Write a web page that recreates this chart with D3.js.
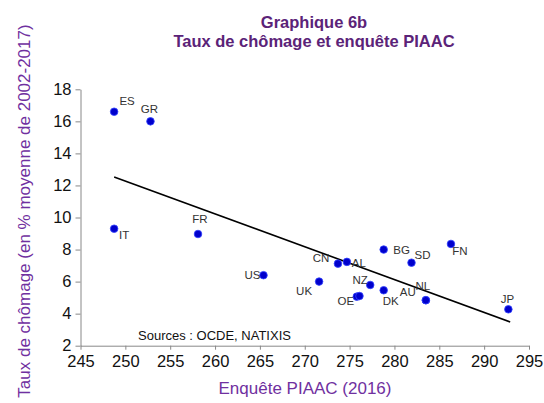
<!DOCTYPE html>
<html>
<head>
<meta charset="utf-8">
<script src="https://cdn.jsdelivr.net/npm/d3@7"></script>
<style>
  body { margin: 0; background: #fff; }
  svg { display: block; font-family: Arial, "Liberation Sans", sans-serif; }
</style>
</head>
<body>
<div id="chart"></div>
<script>
"use strict";

/*** Data */
const countries = ["ES", "GR", "IT", "FR", "US", "UK", "CN", "AL", "NZ", "OE", "", "DK", "AU", "BG", "SD", "FN", "NL", "JP"];
const piaac     = [248.75, 252.8, 248.75, 258.1, 265.4, 271.6, 273.7, 274.7, 277.3, 275.8, 276.1, 278.8, 283.5, 278.8, 281.9, 286.3, 283.5, 292.7];
const chomage   = [16.6, 16.0, 9.3, 8.97, 6.4, 6.0, 7.12, 7.23, 5.79, 5.06, 5.1, 5.46, 4.84, 8.0, 7.18, 8.35, 4.84, 4.27];

/* trend line end points */
const trendX = [248.75, 292.9];
const trendY = [12.53, 3.48];

const xTicks = [245, 250, 255, 260, 265, 270, 275, 280, 285, 290, 295];
const yTicks = [2, 4, 6, 8, 10, 12, 14, 16, 18];

/* label offsets (px) from the point */
const labelDx = {ES: 13, GR: -1, IT: 10, FR: 2, US: -11, UK: -15, CN: -17, AL: 12, NZ: -10, OE: -11, DK: 7, AU: -18, BG: 18, SD: 11, FN: 9, NL: -3, JP: -1};
const labelDy = {ES: -11, GR: -12, IT: 6, FR: -15, US: 0, UK: 9, CN: -6, AL: 1, NZ: -5, OE: 4, DK: 11, AU: -8, BG: 0, SD: -8, FN: 7, NL: -14, JP: -10};

/*** Layout */
const w = 544;
const h = 403;
const plotLeft = 80.5, plotRight = 529, plotTop = 89.3, plotBottom = 345.7;

const svg = d3.select("#chart")
    .append("svg")
    .attr("width", w)
    .attr("height", h);

const x = d3.scaleLinear().domain([245, 295]).range([plotLeft, plotRight]);
const y = d3.scaleLinear().domain([2, 18]).range([plotBottom, plotTop]);

/** Axes */
const xAxis = d3.axisBottom(x).tickValues(xTicks).tickSize(4).tickSizeOuter(0).tickPadding(6);
const yAxis = d3.axisLeft(y).tickValues(yTicks).tickSize(5).tickSizeOuter(0).tickPadding(4);

const gx = svg.append("g")
    .attr("transform", "translate(0," + plotBottom + ")")
    .call(xAxis);
const gy = svg.append("g")
    .attr("transform", "translate(" + plotLeft + ",0)")
    .call(yAxis);

[gx, gy].forEach(g => {
    g.select(".domain").attr("stroke", "#888");
    g.selectAll(".tick line").attr("stroke", "#888");
    g.selectAll(".tick text")
        .attr("fill", "#111")
        .style("font-size", "16.5px")
        .style("font-family", "Arial, 'Liberation Sans', sans-serif");
});

/** Trend line */
svg.append("line")
    .attr("x1", x(trendX[0])).attr("y1", y(trendY[0]))
    .attr("x2", x(trendX[1])).attr("y2", y(trendY[1]))
    .attr("stroke", "#000")
    .attr("stroke-width", 1.6);

/** Points */
const data = countries.map((c, i) => ({c: c, px: piaac[i], u: chomage[i]}));

svg.append("g")
    .selectAll("circle")
    .data(data)
    .enter()
    .append("circle")
    .attr("cx", d => x(d.px))
    .attr("cy", d => y(d.u))
    .attr("r", 3.8)
    .attr("fill", "#0000cc")
    .attr("stroke", "#3344ff")
    .attr("stroke-width", 0.8);

/** Labels */
svg.append("g")
    .selectAll("text")
    .data(data.filter(d => d.c !== ""))
    .enter()
    .append("text")
    .attr("x", d => x(d.px) + labelDx[d.c])
    .attr("y", d => y(d.u) + labelDy[d.c])
    .attr("text-anchor", "middle")
    .attr("dominant-baseline", "central")
    .attr("fill", "#333")
    .style("font-size", "11.5px")
    .text(d => d.c);

/** Titles */
svg.append("text")
    .attr("x", 314).attr("y", 28)
    .attr("text-anchor", "middle")
    .attr("fill", "#5b2378")
    .style("font-size", "16.5px")
    .style("font-weight", "bold")
    .text("Graphique 6b");
svg.append("text")
    .attr("x", 314).attr("y", 47)
    .attr("text-anchor", "middle")
    .attr("fill", "#5b2378")
    .style("font-size", "16.5px")
    .style("font-weight", "bold")
    .text("Taux de chômage et enquête PIAAC");

svg.append("text")
    .attr("x", 305).attr("y", 394)
    .attr("text-anchor", "middle")
    .attr("fill", "#7030a0")
    .style("font-size", "17px")
    .text("Enquête PIAAC (2016)");

svg.append("text")
    .attr("transform", "translate(30,211) rotate(-90)")
    .attr("text-anchor", "middle")
    .attr("fill", "#7030a0")
    .style("font-size", "17px")
    .text("Taux de chômage (en % moyenne de 2002-2017)");

svg.append("text")
    .attr("x", 138).attr("y", 340)
    .attr("fill", "#111")
    .style("font-size", "13px")
    .text("Sources : OCDE, NATIXIS");
</script>
</body>
</html>
